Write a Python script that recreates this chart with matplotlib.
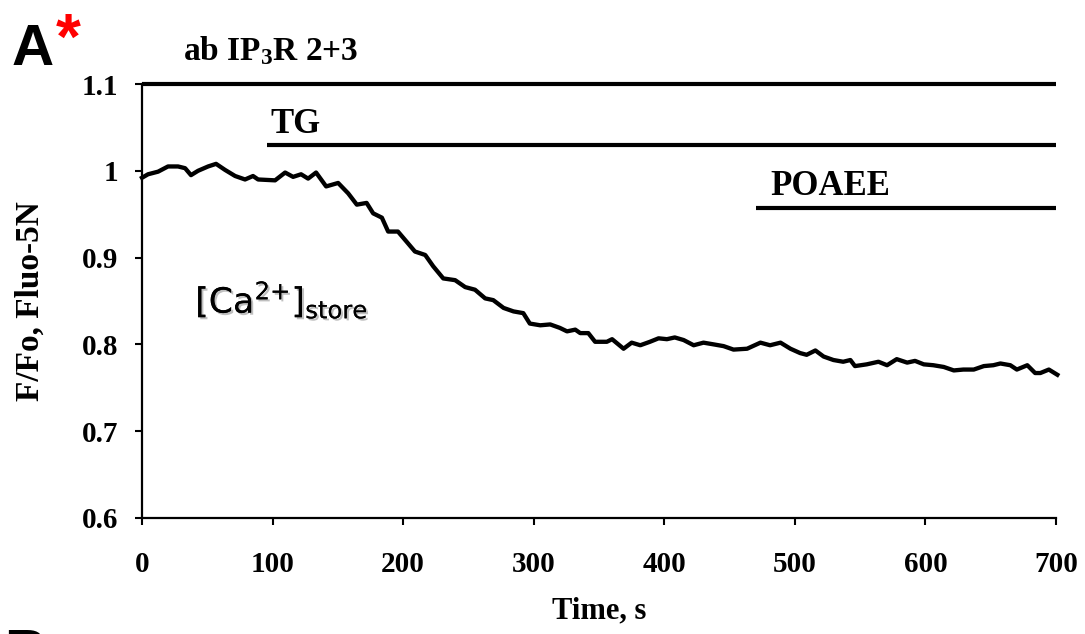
import matplotlib
matplotlib.use("Agg")
import matplotlib.pyplot as plt
import matplotlib.patheffects as pe

plt.rcParams["mathtext.fontset"] = "custom"
plt.rcParams["mathtext.rm"] = "Liberation Serif:bold"
plt.rcParams["mathtext.it"] = "Liberation Serif:bold"
plt.rcParams["mathtext.bf"] = "Liberation Serif:bold"
plt.rcParams["mathtext.sf"] = "DejaVu Sans"

# ---- data ----
time_s = [0, 4.6, 12.3, 19.9, 27.6, 33, 37.5, 42.9, 50.6, 56.7,
          63.6, 71.3, 78.9, 85, 88.9, 101.9, 109.6, 115.7, 121.8, 127.2,
          133.3, 141, 150.2, 157.9, 164.5, 172, 177, 183.7, 188.5, 196,
          202.8, 209, 216.9, 223, 230.7, 239.8, 247.5, 255, 262.8, 269,
          276.9, 284.5, 292, 297, 305, 312.6, 320, 325.5, 331.8, 335.6,
          341.8, 347, 356, 360, 368.8, 375, 381.6, 389, 395.6, 402,
          408, 414.8, 422.5, 430, 437.8, 445.4, 453, 463.4, 473.6, 481,
          489, 496.6, 504, 509, 515.7, 522, 529.5, 537, 542.5, 546,
          555, 564, 570.6, 578, 586, 592, 598.7, 606, 614, 621.7,
          629, 637, 644.7, 652, 657.4, 665, 670, 678, 684, 688,
          694.5, 701]
ratio = [0.992, 0.996, 0.999, 1.005, 1.005, 1.003, 0.995, 1.000, 1.005, 1.008,
         1.001, 0.994, 0.990, 0.994, 0.990, 0.989, 0.998, 0.993, 0.996, 0.991,
         0.998, 0.982, 0.986, 0.974, 0.961, 0.963, 0.951, 0.946, 0.930, 0.930,
         0.918, 0.907, 0.903, 0.890, 0.876, 0.874, 0.866, 0.863, 0.853, 0.851,
         0.842, 0.838, 0.836, 0.824, 0.822, 0.823, 0.819, 0.815, 0.817, 0.813,
         0.813, 0.803, 0.803, 0.806, 0.795, 0.802, 0.799, 0.803, 0.807, 0.806,
         0.808, 0.805, 0.799, 0.802, 0.800, 0.798, 0.794, 0.795, 0.802, 0.799,
         0.802, 0.795, 0.790, 0.788, 0.793, 0.786, 0.782, 0.780, 0.782, 0.775,
         0.777, 0.780, 0.776, 0.783, 0.779, 0.781, 0.777, 0.776, 0.774, 0.770,
         0.771, 0.771, 0.775, 0.776, 0.778, 0.776, 0.771, 0.776, 0.767, 0.767,
         0.771, 0.765]

# treatment bars: (label, start time, end time, level)
bar_labels = ["ab IP$_3$R 2+3", "TG", "POAEE"]
bar_start = [0, 96, 470]
bar_end = [700, 700, 700]
bar_level = [1.1, 1.03, 0.957]

x_ticks = [0, 100, 200, 300, 400, 500, 600, 700]
y_ticks = [0.6, 0.7, 0.8, 0.9, 1.0, 1.1]
y_tick_labels = ["0.6", "0.7", "0.8", "0.9", "1", "1.1"]

SERIF = "Liberation Serif"

fig = plt.figure(figsize=(10.85, 6.34), dpi=100)
ax = fig.add_axes([0.1309, 0.183, 0.8424, 0.6845])

ax.plot(time_s, ratio, color="black", lw=3.1, clip_on=False, solid_joinstyle="round")

for lab, s, e, lev in zip(bar_labels, bar_start, bar_end, bar_level):
    ax.plot([s, e], [lev, lev], color="black", lw=3.0, clip_on=False,
            solid_capstyle="butt")

ax.text(31, 1.1276, bar_labels[0], fontfamily=SERIF, fontweight="bold",
        fontsize=24, ha="left", va="baseline")
ax.text(98, 1.0436, bar_labels[1], fontfamily=SERIF, fontweight="bold",
        fontsize=25, ha="left", va="baseline")
ax.text(481, 0.972, bar_labels[2], fontfamily=SERIF, fontweight="bold",
        fontsize=25, ha="left", va="baseline")

ax.text(107, 0.851, r"$\mathsf{[Ca^{2{+}}]_{store}}$", fontsize=25,
        ha="center", va="center", color="black",
        path_effects=[pe.withSimplePatchShadow(offset=(1.5, -1.5),
                                               shadow_rgbFace="gray", alpha=0.5),
                      pe.Normal()])

ax.set_xlim(0, 700)
ax.set_ylim(0.6, 1.1)
ax.set_xticks(x_ticks)
ax.set_xticklabels([str(v) for v in x_ticks])
ax.set_yticks(y_ticks)
ax.set_yticklabels(y_tick_labels)

for sp in ["top", "right"]:
    ax.spines[sp].set_visible(False)
for sp in ["left", "bottom"]:
    ax.spines[sp].set_linewidth(1.6)

ax.tick_params(axis="both", direction="out", length=5, width=1.5)
ax.tick_params(axis="x", pad=19)
ax.tick_params(axis="y", pad=12)
for lbl in ax.get_xticklabels() + ax.get_yticklabels():
    lbl.set_fontfamily(SERIF)
    lbl.set_fontweight("bold")
    lbl.set_fontsize(21)

ax.set_xlabel("Time, s", fontfamily=SERIF, fontweight="bold", fontsize=22,
              va="center")
ax.xaxis.set_label_coords(0.5, -0.215)
ax.set_ylabel("F/Fo, Fluo-5N", fontfamily=SERIF, fontweight="bold", fontsize=24)
ax.yaxis.set_label_coords(-0.105, 0.5)

fig.text(0.011, 0.8975, "A", fontfamily="Liberation Sans", fontweight="bold",
         fontsize=42, ha="left", va="baseline")
fig.text(0.051, 0.907, "*", fontfamily="Liberation Sans", fontweight="bold",
         fontsize=46, ha="left", va="baseline", color="#ff0000")
fig.text(0.004, -0.057, "B", fontfamily="Liberation Sans", fontweight="bold",
         fontsize=42, ha="left", va="baseline")

fig.savefig("out.png", dpi=100)
